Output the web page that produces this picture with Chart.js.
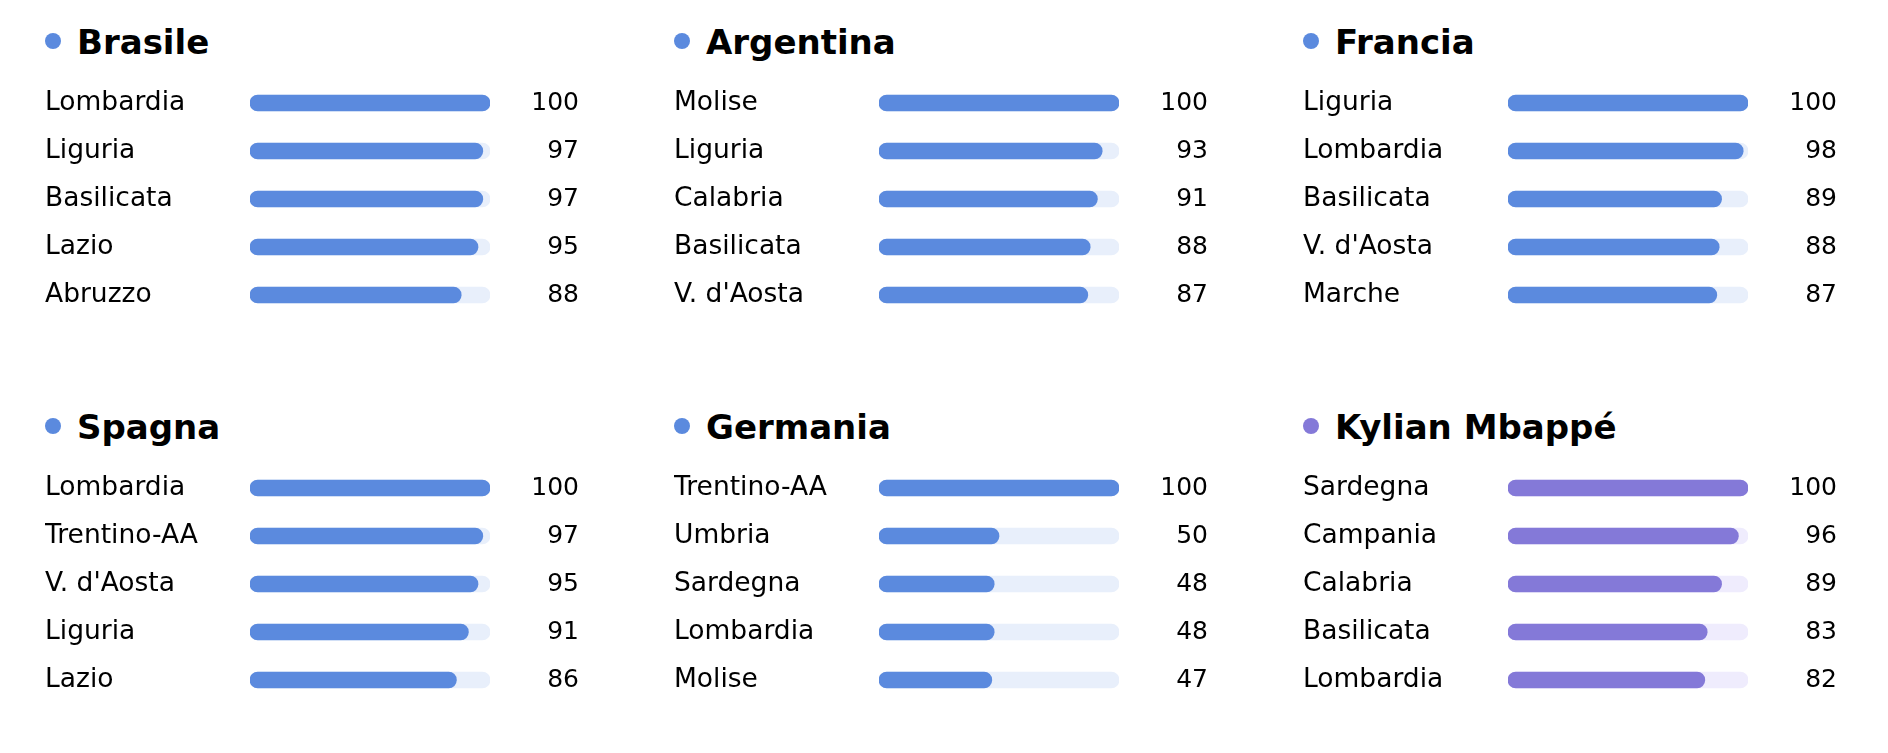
<!DOCTYPE html>
<html>
<head>
<meta charset="utf-8">
<script src="https://cdn.jsdelivr.net/npm/chart.js@4/dist/chart.umd.min.js"></script>
<style>
    body { margin: 0; background: #fff; width: 1888px; height: 753px; position: relative; overflow: hidden; font-family: "DejaVu Sans", sans-serif; }
    .panel-title { position: absolute; font-weight: bold; font-size: 34px; line-height: 34px; color: #000; white-space: nowrap; }
    .dot { position: absolute; width: 16px; height: 16px; border-radius: 50%; }
    .chart-box { position: absolute; width: 534px; height: 240px; }
</style>
</head>
<body>
<script>
// Panel data
const panelTitles = ['Brasile', 'Argentina', 'Francia', 'Spagna', 'Germania', 'Kylian Mbappé'];

const brasileRegions = ['Lombardia', 'Liguria', 'Basilicata', 'Lazio', 'Abruzzo'];
const brasileValues = [100, 97, 97, 95, 88];

const argentinaRegions = ['Molise', 'Liguria', 'Calabria', 'Basilicata', "V. d'Aosta"];
const argentinaValues = [100, 93, 91, 88, 87];

const franciaRegions = ['Liguria', 'Lombardia', 'Basilicata', "V. d'Aosta", 'Marche'];
const franciaValues = [100, 98, 89, 88, 87];

const spagnaRegions = ['Lombardia', 'Trentino-AA', "V. d'Aosta", 'Liguria', 'Lazio'];
const spagnaValues = [100, 97, 95, 91, 86];

const germaniaRegions = ['Trentino-AA', 'Umbria', 'Sardegna', 'Lombardia', 'Molise'];
const germaniaValues = [100, 50, 48, 48, 47];

const mbappeRegions = ['Sardegna', 'Campania', 'Calabria', 'Basilicata', 'Lombardia'];
const mbappeValues = [100, 96, 89, 83, 82];

const scaleMax = 100;

const blueBar = '#5b8ade';
const blueTrack = '#e8effb';
const purpleBar = '#8479d8';
const purpleTrack = '#efecfd';

const panels = [
    { title: panelTitles[0], regions: brasileRegions, values: brasileValues, bar: blueBar, track: blueTrack },
    { title: panelTitles[1], regions: argentinaRegions, values: argentinaValues, bar: blueBar, track: blueTrack },
    { title: panelTitles[2], regions: franciaRegions, values: franciaValues, bar: blueBar, track: blueTrack },
    { title: panelTitles[3], regions: spagnaRegions, values: spagnaValues, bar: blueBar, track: blueTrack },
    { title: panelTitles[4], regions: germaniaRegions, values: germaniaValues, bar: blueBar, track: blueTrack },
    { title: panelTitles[5], regions: mbappeRegions, values: mbappeValues, bar: purpleBar, track: purpleTrack }
];

const colPitch = 629;
const rowPitch = 385;

// fixed axis width, and no extra label padding above/below the rows
function fixAxis(width) {
    return s => {
        s.width = width;
        s.paddingTop = 0;
        s.paddingBottom = 0;
    };
}

panels.forEach((p, i) => {
    const col = i % 3;
    const row = Math.floor(i / 3);
    const left = 45 + col * colPitch;
    const top = row * rowPitch;

    // title with colored dot
    const dot = document.createElement('div');
    dot.className = 'dot';
    dot.style.left = left + 'px';
    dot.style.top = (top + 33) + 'px';
    dot.style.background = p.bar;
    document.body.appendChild(dot);

    const title = document.createElement('div');
    title.className = 'panel-title';
    title.style.left = (left + 32) + 'px';
    title.style.top = (top + 25) + 'px';
    title.textContent = p.title;
    document.body.appendChild(title);

    // chart
    const box = document.createElement('div');
    box.className = 'chart-box';
    box.style.left = left + 'px';
    box.style.top = (top + 79) + 'px';
    const canvas = document.createElement('canvas');
    box.appendChild(canvas);
    document.body.appendChild(box);

    new Chart(canvas, {
        type: 'bar',
        data: {
            labels: p.regions,
            datasets: [
                {
                    data: p.values,
                    backgroundColor: p.bar,
                    barThickness: 16,
                    borderRadius: 8,
                    borderSkipped: false
                },
                {
                    data: p.values.map(() => scaleMax),
                    backgroundColor: p.track,
                    barThickness: 16,
                    borderRadius: 8,
                    borderSkipped: false
                }
            ]
        },
        options: {
            indexAxis: 'y',
            responsive: true,
            maintainAspectRatio: false,
            animation: false,
            layout: { padding: 0 },
            plugins: { legend: { display: false }, tooltip: { enabled: false } },
            datasets: { bar: { grouped: false } },
            scales: {
                x: { display: false, min: 0, max: scaleMax },
                y: {
                    position: 'left',
                    grid: { display: false },
                    border: { display: false },
                    ticks: { crossAlign: 'far', color: '#000', padding: 0, font: { family: 'DejaVu Sans', size: 26.5 } },
                    afterFit: fixAxis(205)
                },
                y2: {
                    type: 'category',
                    position: 'right',
                    offset: true,
                    labels: p.values.map(String),
                    grid: { display: false },
                    border: { display: false },
                    ticks: { crossAlign: 'far', color: '#000', padding: 0, font: { family: 'DejaVu Sans', size: 25 } },
                    afterFit: fixAxis(89)
                }
            }
        }
    });
});
</script>
</body>
</html>
